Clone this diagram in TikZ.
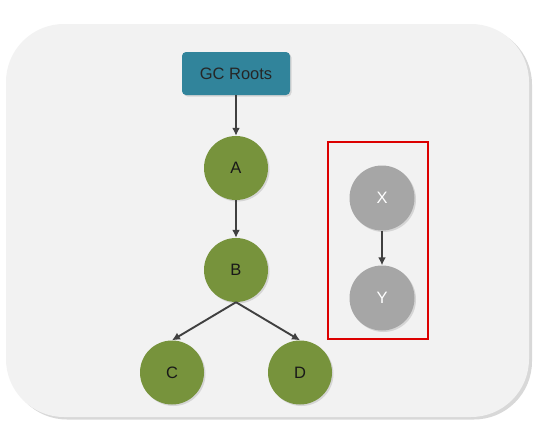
\documentclass[tikz,border=0pt]{standalone}
\usepackage{fontspec}
\setmainfont{Liberation Sans}
\usepackage{xcolor}
\usetikzlibrary{shapes,arrows,arrows.meta,positioning,shadows}

\definecolor{panelgray}{RGB}{242,242,242}
\definecolor{rootteal}{RGB}{49,132,155}
\definecolor{liveolive}{RGB}{119,147,60}
\definecolor{deadgray}{RGB}{166,166,166}
\definecolor{edgegray}{RGB}{64,64,64}
\definecolor{boxred}{RGB}{220,0,0}

\begin{document}
\begin{tikzpicture}[
        x=1pt, y=-1pt,
        rootbox/.style={rectangle, fill=rootteal, minimum width=108pt, minimum height=43pt, rounded corners=4pt, font=\fontsize{16.5}{18}\selectfont, text=black!85, drop shadow={opacity=0.25, shadow xshift=1.5pt, shadow yshift=-1.5pt}},
        live/.style={circle, fill=liveolive, minimum size=64pt, inner sep=0pt, font=\fontsize{16.5}{18}\selectfont, text=black!90, drop shadow={opacity=0.25, shadow xshift=1.5pt, shadow yshift=-1.5pt}},
        dead/.style={circle, fill=deadgray, minimum size=65pt, inner sep=0pt, font=\fontsize{16.5}{18}\selectfont, text=white, drop shadow={opacity=0.25, shadow xshift=1.5pt, shadow yshift=-1.5pt}},
        arrow/.style={draw=edgegray, line width=1.9pt, -{Latex[length=8pt,width=8pt]}}
    ]
        \useasboundingbox (0,0) rectangle (541,431);
        \fill[white] (0,0) rectangle (541,431);
        \fill[panelgray, rounded corners=58pt, drop shadow={opacity=0.3, shadow xshift=3pt, shadow yshift=-2.5pt}] (6,24) rectangle (529,417);

        % Nodes
        \node[rootbox] (roots) at (236,73.5) {GC Roots};
        \node[live] (a) at (236,168) {A};
        \node[live] (b) at (236,270) {B};
        \node[live] (c) at (172,372.5) {C};
        \node[live] (d) at (300,372.5) {D};
        \node[dead] (x) at (382,198) {X};
        \node[dead] (y) at (382,298) {Y};
        \node[draw=boxred, line width=2pt, minimum width=100pt, minimum height=197pt, inner sep=0pt] (unreach) at (377.5,240) {};

        % Arrows
        \draw[arrow] (roots) -- (a);
        \draw[arrow] (a) -- (b);
        \draw[arrow] (b.south) -- (c.north);
        \draw[arrow] (b.south) -- (d.north);
        \draw[arrow] (x) -- (y);

    \end{tikzpicture}
\end{document}
